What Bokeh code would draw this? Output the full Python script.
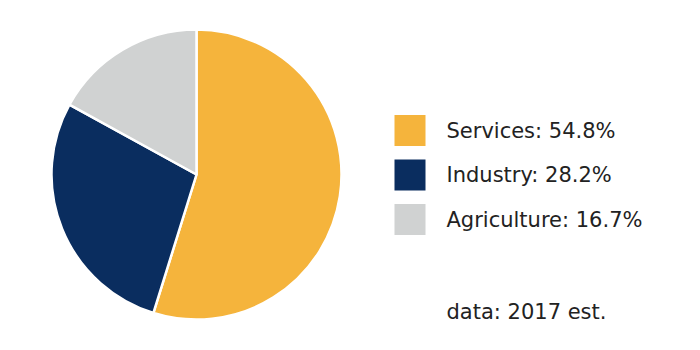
import math
from bokeh.plotting import figure
from bokeh.models import ColumnDataSource
from bokeh.core.properties import value
from bokeh.embed import file_html
from bokeh.resources import INLINE

categories = ["Services", "Industry", "Agriculture"]
shares = [54.8, 28.2, 16.7]
colors = ["#F5B43C", "#0A2D5F", "#D0D2D2"]
note = "data: 2017 est."

# angles: start at top, go clockwise
starts, ends = [], []
acc = 0.0
for i, s in enumerate(shares):
    st = math.pi / 2 - acc / 100 * 2 * math.pi
    acc += s
    en = math.pi / 2 - acc / 100 * 2 * math.pi
    if i == len(shares) - 1:
        en = math.pi / 2 - 2 * math.pi
    starts.append(st)
    ends.append(en)

p = figure(width=700, height=350, x_range=(0, 700), y_range=(0, 350),
           output_backend="svg", toolbar_location=None, min_border=0)
p.axis.visible = False
p.grid.visible = False
p.outline_line_color = None
p.background_fill_color = "white"
p.border_fill_color = "white"

src = ColumnDataSource(dict(start=starts, end=ends, color=colors))
p.wedge(x=196, y=176, radius=145, start_angle="start", end_angle="end",
        direction="clock", fill_color="color", line_color="white",
        line_width=2.5, source=src)

ly = [220 - 44.5 * i for i in range(len(categories))]
labels = [f"{c}: {s}%" for c, s in zip(categories, shares)]
lsrc = ColumnDataSource(dict(y=ly, color=colors, label=labels))
p.rect(x=409.5, y="y", width=31, height=31, fill_color="color", line_color=None, source=lsrc)
p.text(x=446, y="y", text="label", source=lsrc, text_font=value("DejaVu Sans"),
       text_font_size="21px", text_color="#222222", text_baseline="middle")
p.text(x=[446], y=[39], text=[note], text_font=value("DejaVu Sans"),
       text_font_size="21px", text_color="#222222", text_baseline="middle")

open("out.html", "w").write(file_html(p, INLINE))
